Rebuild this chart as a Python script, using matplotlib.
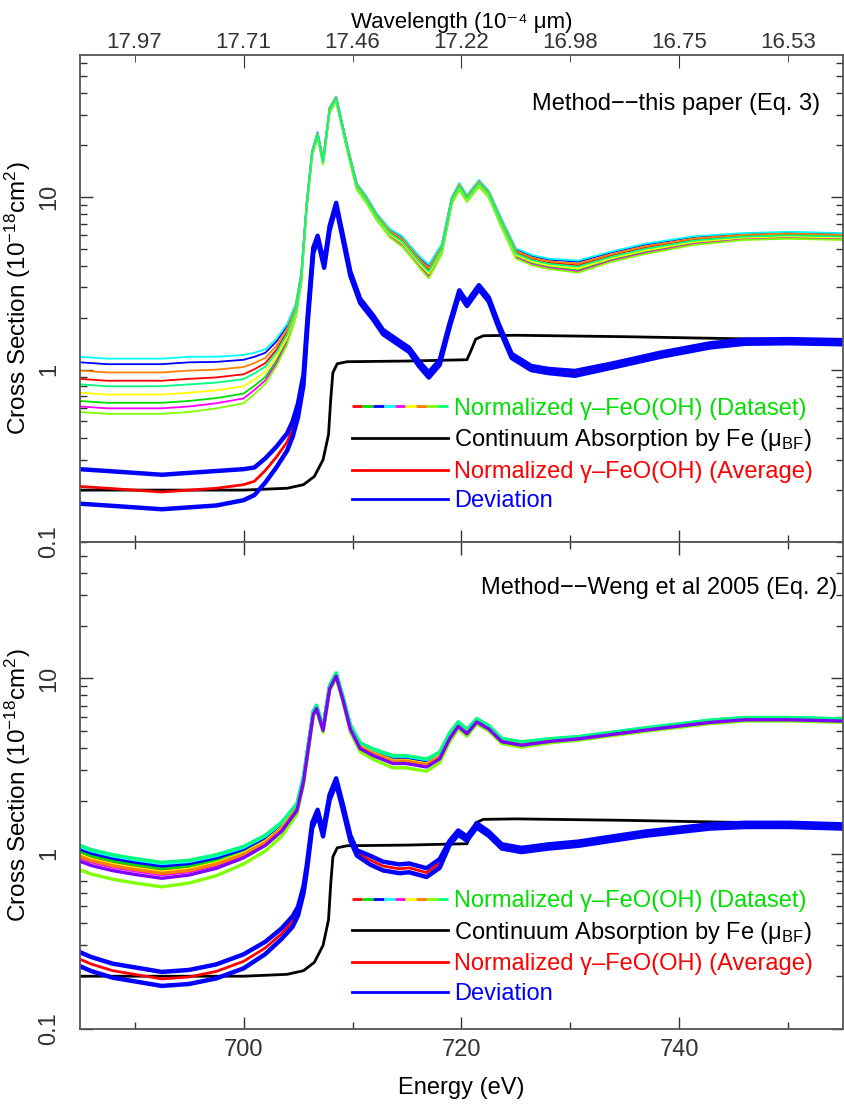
import numpy as np
import matplotlib
matplotlib.use('Agg')
import matplotlib.pyplot as plt
from matplotlib.lines import Line2D
from matplotlib.legend_handler import HandlerBase

plt.rcParams['font.family'] = ['Liberation Sans', 'DejaVu Sans']
plt.rcParams['mathtext.fontset'] = 'custom'
plt.rcParams['mathtext.rm'] = 'Liberation Sans'
plt.rcParams['mathtext.it'] = 'Liberation Sans:italic'
plt.rcParams['mathtext.bf'] = 'Liberation Sans:bold'

# ---- top panel: this paper (Eq. 3) ----
top_e = [685, 687.5, 690, 692.5, 695, 697.5, 700, 701, 702, 703, 704, 704.8, 705.3, 705.8,
         706.3, 706.8, 707.3, 707.9, 708.5, 709.5, 710.4, 711.3, 712.2, 713.4, 714.6, 715.5,
         716.3, 717.0, 718.2, 719.1, 719.8, 720.5, 721.6, 722.5, 723.7, 725.0, 726.5, 728.0,
         730.7, 733.7, 736.8, 741.4, 745.9, 750, 755]
top_set = [0.82, 0.80, 0.80, 0.80, 0.82, 0.84, 0.88, 0.95, 1.04, 1.25, 1.6, 2.2, 3.4, 9.0,
           18, 23, 16, 32, 37, 19.5, 11.5, 9.6, 7.7, 6.2, 5.5, 4.7,
           4.1, 3.7, 5.0, 9.5, 11.5, 9.8, 12.0, 10.4, 7.0, 4.7, 4.3, 4.1,
           3.95, 4.5, 5.0, 5.6, 5.9, 6.0, 5.9]
# half-width of the dataset band (log10)
top_spread = [0.16, 0.16, 0.16, 0.16, 0.16, 0.15, 0.14, 0.12, 0.10, 0.08, 0.06, 0.04, 0.03, 0.02,
              0.015, 0.015, 0.015, 0.015, 0.015, 0.015, 0.02, 0.02, 0.02, 0.025, 0.03, 0.03,
              0.035, 0.04, 0.03, 0.02, 0.02, 0.02, 0.02, 0.02, 0.025, 0.03, 0.03, 0.03,
              0.035, 0.03, 0.03, 0.025, 0.02, 0.02, 0.02]

top_avg_e = [685, 687.5, 690, 692.5, 695, 697.5, 700, 701, 702, 703, 704, 704.5, 705, 705.5,
             705.9, 706.4, 706.8, 707.4, 707.9, 708.5, 709.1, 709.8, 710.7, 711.9, 712.8, 714.3,
             715.2, 716.1, 717.0, 718.0, 718.9, 719.8, 720.5, 721.6, 722.5, 723.4, 724.6, 726.4,
             728, 730.4, 733.7, 738.3, 742.8, 746, 750, 755]
top_avg = [0.21, 0.205, 0.20, 0.195, 0.20, 0.205, 0.215, 0.225, 0.26, 0.31, 0.38, 0.45, 0.58, 0.87,
           2.0, 4.9, 5.8, 4.0, 6.6, 9.0, 5.9, 3.6, 2.5, 2.0, 1.65, 1.42,
           1.3, 1.08, 0.93, 1.1, 1.8, 2.8, 2.4, 3.0, 2.55, 1.8, 1.2, 1.02,
           0.98, 0.95, 1.05, 1.22, 1.38, 1.45, 1.46, 1.44]
top_dev = ([0.1] * 6 + [0.09, 0.08, 0.07, 0.06, 0.05, 0.045, 0.04, 0.03, 0.02, 0.015]
           + [0.012] * 11 + [0.014, 0.015, 0.014] + [0.012] * 9 + [0.014] + [0.012] * 6)

# ---- bottom panel: Weng et al 2005 (Eq. 2) ----
bot_e = [685, 686, 688, 690, 692.5, 695, 697.5, 700, 702, 703.5, 704.9, 705.5, 705.8, 706.4,
         706.7, 707.3, 707.9, 708.5, 709.1, 709.8, 710.7, 711.9, 713.7, 714.9, 716.8, 718.0,
         718.9, 719.7, 720.5, 721.4, 722.5, 723.7, 725.5, 728, 730.7, 736.8, 742.8, 746, 750, 755]
bot_set = [0.95, 0.90, 0.84, 0.80, 0.76, 0.79, 0.86, 0.98, 1.15, 1.38, 1.8, 2.6, 3.5, 6.3,
           6.8, 5.1, 8.8, 10.4, 7.7, 5.2, 4.05, 3.7, 3.35, 3.35, 3.2, 3.55,
           4.6, 5.4, 4.9, 5.7, 5.2, 4.4, 4.2, 4.4, 4.55, 5.1, 5.65, 5.85, 5.85, 5.75]
bot_spread = [0.07, 0.07, 0.07, 0.07, 0.07, 0.065, 0.06, 0.05, 0.045, 0.04, 0.03, 0.025, 0.02, 0.015,
              0.015, 0.015, 0.015, 0.015, 0.015, 0.02, 0.025, 0.03, 0.035, 0.035, 0.035, 0.03,
              0.025, 0.02, 0.02, 0.015, 0.015, 0.015, 0.015, 0.012, 0.01, 0.01, 0.01, 0.01, 0.01, 0.01]

bot_avg_e = [685, 686, 688, 690, 692.5, 695, 697.5, 700, 702, 703.5, 704.5, 705, 705.5, 705.8,
             706.3, 706.8, 707.3, 707.9, 708.5, 709.1, 709.8, 710.4, 711.6, 712.8, 714.3, 715.2,
             716.8, 718.0, 718.9, 719.7, 720.5, 721.4, 722.5, 723.7, 725.5, 728, 730.7, 736.8,
             742.8, 746, 750, 755]
bot_avg = [0.25, 0.235, 0.215, 0.205, 0.193, 0.198, 0.213, 0.243, 0.29, 0.35, 0.41, 0.47, 0.62, 0.82,
           1.45, 1.72, 1.3, 2.1, 2.6, 1.86, 1.23, 1.01, 0.92, 0.85, 0.82, 0.83,
           0.78, 0.88, 1.15, 1.32, 1.22, 1.45, 1.3, 1.1, 1.05, 1.1, 1.14, 1.3,
           1.43, 1.46, 1.46, 1.43]
bot_dev = ([0.04] * 8 + [0.035, 0.03, 0.03, 0.025, 0.02, 0.018, 0.015]
           + [0.015] * 7 + [0.025] * 6 + [0.012] * 14)

# continuum absorption by Fe (same in both panels)
bf_e = [685, 700, 704, 705.5, 706.5, 707.3, 707.8, 708.0, 708.2, 708.6, 709.5, 715, 720.5,
        720.9, 721.3, 722, 725, 735, 745, 755]
bf = [0.20, 0.20, 0.205, 0.215, 0.24, 0.30, 0.42, 0.67, 0.96, 1.08, 1.11, 1.12, 1.14,
      1.3, 1.5, 1.57, 1.58, 1.55, 1.51, 1.47]

set_colors = ['#ff0000', '#00e000', '#0000ff', '#00ffff', '#ff00ff', '#ffff00',
              '#ff8000', '#80ff00', '#00ff80']
top_offsets = [0.2, -0.6, 0.8, 1.0, -0.8, -0.3, 0.5, -1.0, 0.0]
bot_colors = set_colors + ['#8000ff']
bot_offsets = [0.3, 0.5, 0.7, 0.9, 0.0, 0.2, 0.1, -1.0, 1.0, -0.3]

wl_major = ['17.71', '17.22', '16.75']          # at 700, 720, 740 eV
wl_minor = ['17.97', '17.46', '16.98', '16.53']  # at 690, 710, 730, 750 eV

legend_labels = ['Normalized γ–FeO(OH) (Dataset)',
                 'Continuum Absorption by Fe (μ$_{\\rm BF}$)',
                 'Normalized γ–FeO(OH) (Average)',
                 'Deviation']
legend_colors = ['#00e000', 'black', 'red', 'blue']


class MultiLine(object):
    def __init__(self, colors, lw):
        self.colors = colors
        self.lw = lw


class HandlerMulti(HandlerBase):
    def create_artists(self, legend, orig_handle, xdescent, ydescent, width, height, fontsize, trans):
        n = len(orig_handle.colors)
        seg = width / n
        arts = []
        for i, c in enumerate(orig_handle.colors):
            l = Line2D([i * seg - xdescent, (i + 1) * seg - xdescent],
                       [height / 2 - ydescent] * 2, color=c, lw=orig_handle.lw,
                       solid_capstyle='butt', transform=trans)
            arts.append(l)
        return arts


def draw_panel(ax, se, sv, spread, offsets, colors, set_lw, ae, av, dev, blue_lw):
    sv = np.array(sv)
    spread = np.array(spread)
    for off, c in zip(offsets, colors):
        ax.plot(se, sv * 10 ** (off * spread), color=c, lw=set_lw)
    ax.plot(bf_e, bf, color='black', lw=2.0)
    av = np.array(av)
    dev = np.array(dev)
    ax.plot(ae, av, color='red', lw=2.0)
    ax.plot(ae, av * 10 ** dev, color='blue', lw=blue_lw)
    ax.plot(ae, av * 10 ** (-dev), color='blue', lw=blue_lw)


def style(ax, ytop):
    ax.set_yscale('log')
    ax.set_xlim(685, 755)
    ax.set_ylim(0.1, ytop)
    ax.set_xticks([700, 720, 740])
    ax.set_xticks([690, 710, 730, 750], minor=True)
    ax.set_yticks([0.1, 1, 10])
    ax.set_yticklabels(['0.1', '1', '10'])
    ax.tick_params(which='both', direction='in', top=True, right=True, colors='#333333')
    ax.tick_params(which='major', length=9, width=1.0)
    ax.tick_params(which='minor', length=5, width=1.0)
    ax.tick_params(axis='y', which='major', labelsize=17, pad=14, labelrotation=90)
    for lab in ax.get_yticklabels():
        lab.set_va('center')
    for s in ax.spines.values():
        s.set_color('#555555')
        s.set_linewidth(1.3)
    ax.set_ylabel('Cross Section (10$^{-18}$cm$^2$)', fontsize=17.5, labelpad=4)


def add_legend(ax, anchor):
    handles = [MultiLine(set_colors, 2.0),
               Line2D([], [], color='black', lw=2.0),
               Line2D([], [], color='red', lw=2.0),
               Line2D([], [], color='blue', lw=2.0)]
    leg = ax.legend(handles, legend_labels, handler_map={MultiLine: HandlerMulti()},
                    loc='upper left', bbox_to_anchor=anchor, frameon=False, fontsize=17,
                    handlelength=4.1, handletextpad=0.25, labelspacing=0.32,
                    borderaxespad=0, borderpad=0)
    for t, c in zip(leg.get_texts(), legend_colors):
        t.set_color(c)


fig = plt.figure(figsize=(8.44, 11.13), dpi=100)
ax1 = fig.add_axes([0.0948, 0.513, 0.904, 0.438])
ax2 = fig.add_axes([0.0948, 0.0755, 0.904, 0.4375])

draw_panel(ax1, top_e, top_set, top_spread, top_offsets, set_colors, 1.3,
           top_avg_e, top_avg, top_dev, 3.2)
draw_panel(ax2, bot_e, bot_set, bot_spread, bot_offsets, bot_colors, 2.4,
           bot_avg_e, bot_avg, bot_dev, 3.2)

style(ax1, 67)
style(ax2, 60)
ax1.tick_params(axis='x', labelbottom=False, top=False)
ax2.tick_params(axis='x', labelsize=17, pad=7)
ax2.set_xlabel('Energy (eV)', fontsize=17, labelpad=12)

# wavelength axis on top
axw = ax1.twiny()
axw.set_xlim(685, 755)
axw.set_xticks([700, 720, 740])
axw.set_xticklabels(wl_major)
axw.set_xticks([690, 710, 730, 750], minor=True)
axw.set_xticklabels(wl_minor, minor=True)
axw.tick_params(which='both', direction='in', colors='#333333', labelsize=16, pad=1)
axw.tick_params(which='major', length=9)
axw.tick_params(which='minor', length=5)
axw.set_xlabel('Wavelength (10\u207b\u2074 μm)', fontsize=16,
               family=['Liberation Sans', 'DejaVu Sans'], labelpad=3)
for s in axw.spines.values():
    s.set_visible(False)

ax1.text(0.97, 0.898, 'Method−−this paper (Eq. 3)', transform=ax1.transAxes,
         ha='right', va='center', fontsize=17)
ax2.text(0.993, 0.906, 'Method−−Weng et al 2005 (Eq. 2)', transform=ax2.transAxes,
         ha='right', va='center', fontsize=17)

add_legend(ax1, (0.356, 0.296))
add_legend(ax2, (0.356, 0.285))

fig.savefig('out.png', dpi=100)
